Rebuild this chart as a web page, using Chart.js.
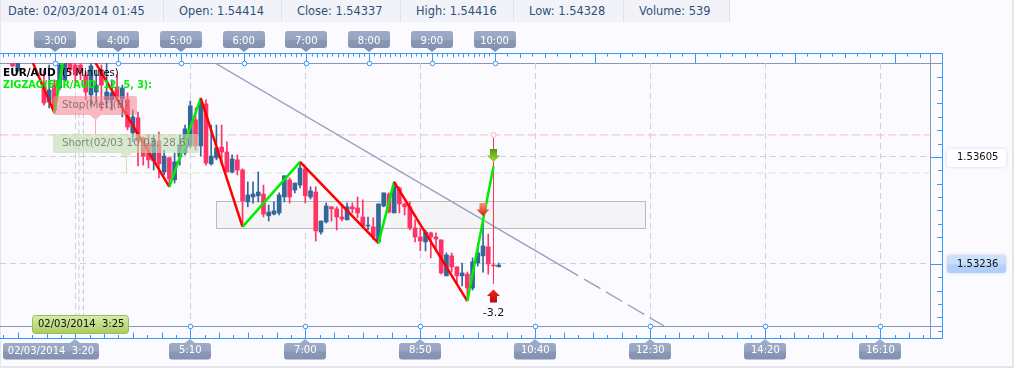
<!DOCTYPE html>
<html>
<head>
<meta charset="utf-8">
<title>EUR/AUD</title>
<script src="https://cdn.jsdelivr.net/npm/chart.js@4"></script>
<style>
  html, body { margin: 0; padding: 0; background: #fafaff; }
  #wrap { position: relative; width: 1014px; height: 368px; overflow: hidden; }
  #bubbleChart { position: absolute; left: 0; top: 0; }
  #header { position: absolute; left: 1px; top: 0; width: 729px; height: 22px; background: #f1f3f8; }
  #header span { position: absolute; top: 0; font: 11.4px/22px "DejaVu Sans"; color: #2f5078; white-space: nowrap; }
  #header i { position: absolute; top: 0; width: 1px; height: 22px; background: #e0e3ea; }
</style>
</head>
<body>
<div id="wrap">
  <canvas id="bubbleChart" width="1014" height="368"></canvas>
  <div id="header">
    <span style="left:7px">Date: 02/03/2014 01:45</span><i style="left:162px"></i>
    <span style="left:178px">Open: 1.54414</span><i style="left:280px"></i>
    <span style="left:296px">Close: 1.54337</span><i style="left:399px"></i>
    <span style="left:415px">High: 1.54416</span><i style="left:512px"></i>
    <span style="left:528px">Low: 1.54328</span><i style="left:622px"></i>
    <span style="left:638px">Volume: 539</span><i style="left:728px"></i>
  </div>
</div>
<script>
// candles, time is minutes after midnight
var times = [140,145,170,175,180,185,190,195,200,205,210,215,220,225,230,235,240,245,250,255,260,265,270,275,280,285,290,295,300,305,310,315,320,325,330,335,340,345,350,355,360,365,370,375,380,385,390,395,400,405,410,415,420,425,430,435,440,445,450,455,460,465,470,475,480,485,490,495,500,505,510,515,520,525,530,535,540,545,550,555,560,565,570,575,580,585,590,595,600,605];
var opens = [1.53947,1.53902,1.53860,1.53795,1.53853,1.53843,1.53871,1.53940,1.53922,1.53922,1.53888,1.53819,1.53829,1.53905,1.53802,1.53802,1.53846,1.53805,1.53802,1.53688,1.53740,1.53671,1.53653,1.53591,1.53660,1.53553,1.53602,1.53526,1.53605,1.53619,1.53643,1.53733,1.53643,1.53788,1.53581,1.53602,1.53639,1.53622,1.53553,1.53595,1.53560,1.53450,1.53467,1.53471,1.53477,1.53402,1.53408,1.53412,1.53467,1.53526,1.53491,1.53508,1.53564,1.53467,1.53484,1.53346,1.53381,1.53433,1.53426,1.53398,1.53388,1.53433,1.53429,1.53398,1.53367,1.53364,1.53312,1.53436,1.53477,1.53412,1.53498,1.53443,1.53433,1.53360,1.53329,1.53312,1.53343,1.53329,1.53319,1.53195,1.53264,1.53226,1.53195,1.53201,1.53153,1.53239,1.53264,1.53295,1.53232,1.53226];
var closes = [1.53919,1.53940,1.53791,1.53836,1.53767,1.53922,1.53940,1.53905,1.53888,1.53895,1.53829,1.53919,1.53853,1.53853,1.53829,1.53826,1.53812,1.53843,1.53708,1.53743,1.53660,1.53608,1.53595,1.53664,1.53581,1.53608,1.53529,1.53588,1.53646,1.53702,1.53781,1.53643,1.53791,1.53584,1.53608,1.53636,1.53622,1.53553,1.53598,1.53560,1.53453,1.53474,1.53477,1.53484,1.53408,1.53415,1.53419,1.53474,1.53540,1.53467,1.53515,1.53567,1.53471,1.53488,1.53350,1.53384,1.53436,1.53426,1.53398,1.53391,1.53433,1.53426,1.53412,1.53367,1.53370,1.53329,1.53443,1.53481,1.53415,1.53508,1.53443,1.53433,1.53360,1.53329,1.53315,1.53346,1.53329,1.53322,1.53205,1.53267,1.53226,1.53195,1.53205,1.53153,1.53243,1.53274,1.53298,1.53236,1.53229,1.53232];
var highs = [1.53947,1.53947,1.53905,1.53922,1.53871,1.53940,1.53947,1.53940,1.53933,1.53933,1.53898,1.53933,1.53905,1.53922,1.53929,1.53871,1.53888,1.53853,1.53826,1.53767,1.53760,1.53674,1.53681,1.53681,1.53691,1.53629,1.53605,1.53619,1.53681,1.53715,1.53798,1.53774,1.53808,1.53802,1.53715,1.53715,1.53715,1.53657,1.53612,1.53612,1.53564,1.53519,1.53519,1.53553,1.53508,1.53439,1.53450,1.53481,1.53540,1.53533,1.53515,1.53584,1.53567,1.53502,1.53502,1.53384,1.53446,1.53433,1.53433,1.53439,1.53446,1.53446,1.53467,1.53457,1.53398,1.53395,1.53443,1.53481,1.53481,1.53519,1.53502,1.53446,1.53450,1.53388,1.53360,1.53353,1.53346,1.53343,1.53319,1.53274,1.53274,1.53226,1.53239,1.53208,1.53257,1.53308,1.53388,1.53339,1.53236,1.53239];
var lows = [1.53915,1.53898,1.53784,1.53774,1.53757,1.53836,1.53864,1.53888,1.53853,1.53871,1.53802,1.53784,1.53802,1.53767,1.53774,1.53767,1.53802,1.53743,1.53698,1.53657,1.53574,1.53577,1.53567,1.53560,1.53533,1.53543,1.53502,1.53515,1.53577,1.53612,1.53636,1.53629,1.53608,1.53577,1.53577,1.53595,1.53577,1.53553,1.53550,1.53543,1.53364,1.53433,1.53446,1.53450,1.53398,1.53384,1.53405,1.53405,1.53450,1.53446,1.53481,1.53498,1.53446,1.53460,1.53315,1.53339,1.53377,1.53384,1.53353,1.53384,1.53388,1.53412,1.53395,1.53364,1.53353,1.53319,1.53308,1.53433,1.53412,1.53412,1.53412,1.53405,1.53353,1.53312,1.53281,1.53281,1.53257,1.53284,1.53201,1.53195,1.53208,1.53170,1.53160,1.53112,1.53146,1.53229,1.53208,1.53201,1.53229,1.53226];

// zigzag turning points
var zigTimes = [142.3,180,195,290,320,360,415,490,505,575,600];
var zigPrices = [1.54074,1.53757,1.54077,1.53502,1.53808,1.53364,1.53588,1.53308,1.53519,1.53108,1.53572];

var trendTimes = [333.6,680.9];
var trendPrices = [1.53929,1.53196];
var trendDashTimes = [686.6,763.1];
var trendDashPrices = [1.53184,1.53022];

var stopPrice = 1.53681;
var shortPrice = 1.53550;
var tradeTime = 600;
var tradeLow = 1.53167;
var crossTimes = [203.5,207.8];

var priceTicks = [1.53605,1.53236];
var bottomTicks = [200,310,420,530,640,750,860,970];
var topTicks = [180,240,300,360,420,480,540,600];
var boxTimes = [335,745];
var boxPrices = [1.53453,1.53360];

var BLUE = "#336699";
var PINK = "#ff3366";
var FONT = '"DejaVu Sans"';

function timeLabel(v) {
  var h = Math.floor(v / 60);
  var m = v % 60;
  return h + ":" + (m < 10 ? "0" + m : m);
}

function xy(xs, ys) {
  return xs.map(function (x, i) { return { x: x, y: ys[i] }; });
}

function roundRect(ctx, x, y, w, h, r) {
  ctx.beginPath();
  ctx.roundRect(x, y, w, h, r);
}

// pill with a small pointer towards the axis
function pill(ctx, x, y, w, h, tipX, tipY, fill) {
  ctx.fillStyle = fill;
  roundRect(ctx, x, y, w, h, 3);
  ctx.fill();
  ctx.beginPath();
  var edge = tipY > y ? y + h : y;
  ctx.moveTo(tipX - 5, edge);
  ctx.lineTo(tipX, tipY);
  ctx.lineTo(tipX + 5, edge);
  ctx.closePath();
  ctx.fill();
}

function pillGradient(ctx, y, h) {
  var g = ctx.createLinearGradient(0, y, 0, y + h);
  g.addColorStop(0, "#9eabc6");
  g.addColorStop(0.5, "#97a5c1");
  g.addColorStop(0.55, "#8a97b6");
  g.addColorStop(1, "#8491b0");
  return g;
}

// block arrow, dir 1 = down, -1 = up. tip at (x, tip)
function arrow(ctx, x, tip, dir, c1, c2) {
  var g = ctx.createLinearGradient(0, tip - dir * 13, 0, tip);
  g.addColorStop(0, c1);
  g.addColorStop(1, c2);
  ctx.fillStyle = g;
  ctx.beginPath();
  ctx.moveTo(x, tip);
  ctx.lineTo(x + 6.5, tip - dir * 6.5);
  ctx.lineTo(x + 3.5, tip - dir * 6.5);
  ctx.lineTo(x + 3.5, tip - dir * 13);
  ctx.lineTo(x - 3.5, tip - dir * 13);
  ctx.lineTo(x - 3.5, tip - dir * 6.5);
  ctx.lineTo(x - 6.5, tip - dir * 6.5);
  ctx.closePath();
  ctx.fill();
}

var frame = {
  id: "frame",
  beforeDraw: function (chart) {
    var ctx = chart.ctx;
    var x = chart.scales.x, top = chart.scales.xTop, y = chart.scales.y;
    var i, px;
    ctx.save();
    ctx.fillStyle = "#fafaff";
    ctx.fillRect(0, 0, chart.width, chart.height);

    // page edge
    ctx.fillStyle = "#e4e4ea";
    ctx.fillRect(0, 366, 1014, 2);
    ctx.fillRect(1012, 0, 2, 368);
    ctx.fillRect(0, 0, 1, 368);

    // outer blue ruler
    ctx.strokeStyle = "#3399ff";
    ctx.lineWidth = 1;
    ctx.beginPath();
    ctx.moveTo(0, 53.5); ctx.lineTo(942.5, 53.5);
    ctx.lineTo(942.5, 338.5); ctx.lineTo(0, 338.5);

    // top ruler, 5 minute steps up to the last bar then wider
    var p600 = top.getPixelForValue(600);
    for (i = 0; top.getPixelForValue(600 - i * 5) > 0; i++) {
      px = Math.round(top.getPixelForValue(600 - i * 5)) + 0.5;
      ctx.moveTo(px, 53.5); ctx.lineTo(px, i % 2 ? 56.5 : 57.5);
    }
    for (i = 1; p600 + i * 12.5 < 930; i++) {
      px = Math.round(p600 + i * 12.5) + 0.5;
      ctx.moveTo(px, 53.5); ctx.lineTo(px, i % 8 === 0 ? 63 : (i % 2 ? 56.5 : 58));
    }
    // bottom ruler
    var p0 = x.getPixelForValue(200), step = (x.getPixelForValue(310) - p0) / 8;
    for (i = -5; p0 + i * step < 930; i++) {
      px = Math.round(p0 + i * step) + 0.5;
      ctx.moveTo(px, 338.5); ctx.lineTo(px, i % 2 === 0 ? 332.5 : 335);
    }
    // right ruler
    var y0 = y.getPixelForValue(priceTicks[0]);
    var ystep = (y.getPixelForValue(priceTicks[1]) - y0) / 8;
    for (i = -7; y0 + i * ystep < 338; i++) {
      px = Math.round(y0 + i * ystep) + 0.5;
      ctx.moveTo(942.5, px); ctx.lineTo(i % 8 === 0 ? 930 : (i % 2 === 0 ? 937 : 938), px);
    }
    // stems from axis to ruler
    topTicks.forEach(function (t) {
      px = Math.round(top.getPixelForValue(t)) + 0.5;
      ctx.moveTo(px, 53.5); ctx.lineTo(px, 63);
    });
    bottomTicks.forEach(function (t) {
      px = Math.round(x.getPixelForValue(t)) + 0.5;
      ctx.moveTo(px, 326); ctx.lineTo(px, 338.5);
    });
    ctx.stroke();

    // inner grey frame
    ctx.strokeStyle = "#8597ba";
    ctx.beginPath();
    ctx.moveTo(0, 63.5); ctx.lineTo(942.5, 63.5);
    ctx.moveTo(0, 326.5); ctx.lineTo(942.5, 326.5);
    ctx.moveTo(930.5, 53.5); ctx.lineTo(930.5, 338.5);
    ctx.stroke();

    // pills under the tick labels
    topTicks.forEach(function (t) {
      px = Math.round(top.getPixelForValue(t));
      pill(ctx, px - 21, 31, 42, 17, px, 52, pillGradient(ctx, 31, 17));
    });
    bottomTicks.forEach(function (t, n) {
      px = Math.round(x.getPixelForValue(t));
      if (n === 0) pill(ctx, 3, 343, 96, 16.5, px, 339, pillGradient(ctx, 343, 16));
      else pill(ctx, px - 21, 343, 42, 16.5, px, 339, pillGradient(ctx, 343, 16));
    });

    // price labels
    ctx.shadowColor = "rgba(120,130,170,0.35)";
    ctx.shadowBlur = 3;
    ctx.fillStyle = "#fff";
    roundRect(ctx, 947, 149, 59, 18, 3);
    ctx.fill();
    var g = ctx.createLinearGradient(0, 255, 0, 273);
    g.addColorStop(0, "#cfe2fb");
    g.addColorStop(0.5, "#c9defb");
    g.addColorStop(0.55, "#b2d1f9");
    g.addColorStop(1, "#afcff9");
    ctx.fillStyle = g;
    roundRect(ctx, 947, 255, 59, 18, 3);
    ctx.fill();
    ctx.restore();
  },
  beforeDatasetsDraw: function (chart) {
    var ctx = chart.ctx, x = chart.scales.x, y = chart.scales.y;
    var bx = x.getPixelForValue(boxTimes[0]), bx2 = x.getPixelForValue(boxTimes[1]);
    var by = y.getPixelForValue(boxPrices[0]), by2 = y.getPixelForValue(boxPrices[1]);
    ctx.save();
    ctx.fillStyle = "#f4f4f7";
    ctx.strokeStyle = "#bbbbbb";
    ctx.fillRect(bx, by, bx2 - bx, by2 - by);
    ctx.strokeRect(Math.round(bx) + 0.5, Math.round(by) + 0.5, Math.round(bx2 - bx), Math.round(by2 - by));
    ctx.restore();
  },
  afterDatasetsDraw: function (chart) {
    var ctx = chart.ctx, x = chart.scales.x, top = chart.scales.xTop;
    var tradeX = x.getPixelForValue(tradeTime);
    var px;
    ctx.save();

    // axis circles
    ctx.strokeStyle = "#3399ff";
    ctx.fillStyle = "#fafaff";
    ctx.lineWidth = 1;
    topTicks.forEach(function (t) {
      px = Math.round(top.getPixelForValue(t)) + 0.5;
      ctx.beginPath(); ctx.arc(px, 63.5, 2.3, 0, Math.PI * 2); ctx.fill(); ctx.stroke();
    });
    bottomTicks.slice(1).forEach(function (t) {
      px = Math.round(x.getPixelForValue(t)) + 0.5;
      ctx.beginPath(); ctx.arc(px, 326.5, 2.3, 0, Math.PI * 2); ctx.fill(); ctx.stroke();
    });

    // stop bubble
    ctx.fillStyle = "rgba(250,130,140,0.55)";
    roundRect(ctx, 53, 96, 84, 19, 2);
    ctx.fill();
    ctx.beginPath();
    ctx.moveTo(90, 115); ctx.lineTo(95.5, 120); ctx.lineTo(101, 115); ctx.closePath();
    ctx.fill();
    ctx.fillStyle = "rgba(250,150,160,0.8)";
    ctx.fillRect(95, 120, 1, 15);
    // short bubble
    ctx.fillStyle = "rgba(195,222,175,0.6)";
    roundRect(ctx, 53, 134, 146, 19, 2);
    ctx.fill();
    ctx.beginPath();
    ctx.moveTo(120, 153); ctx.lineTo(126, 159); ctx.lineTo(132, 153); ctx.closePath();
    ctx.fill();
    ctx.fillStyle = "rgba(190,220,170,0.8)";
    ctx.fillRect(126, 159, 1, 14);

    ctx.textBaseline = "middle";
    ctx.textAlign = "left";
    ctx.font = "10.3px " + FONT;
    ctx.fillStyle = "rgba(110,100,100,0.8)";
    ctx.fillText("Stop(Met)(B)", 62, 105.5);
    ctx.fillStyle = "rgba(110,120,105,0.85)";
    ctx.fillText("Short(02/03 10:03, 28.6)", 62, 143.5);

    // title lines
    ctx.font = "bold 10.5px " + FONT;
    ctx.fillStyle = "#000";
    ctx.fillText("EUR/AUD", 3, 73);
    ctx.font = "10px " + FONT;
    ctx.fillText("(5 Minutes)", 62, 73);
    ctx.font = "bold 9.6px " + FONT;
    ctx.fillStyle = "#00f000";
    ctx.fillText("ZIGZAG(EUR/AUD, 12, 5, 3):", 3, 85);

    // entry and exit arrows
    arrow(ctx, tradeX, 162, 1, "#4f9a12", "#a8d63e");
    arrow(ctx, tradeX - 10.5, 216, 1, "#f59a6a", "#d81c14");
    arrow(ctx, tradeX, 289.5, -1, "#b80d12", "#f52222");

    ctx.fillStyle = "#111";
    ctx.textAlign = "center";
    ctx.font = "11px " + FONT;
    ctx.fillText("-3.2", tradeX, 313);

    // crosshair time label
    var g = ctx.createLinearGradient(0, 315, 0, 333);
    g.addColorStop(0, "#dcecae");
    g.addColorStop(1, "#aacd63");
    ctx.fillStyle = g;
    ctx.strokeStyle = "#9bbd55";
    roundRect(ctx, 32.5, 315.5, 96, 18, 3);
    ctx.fill();
    ctx.stroke();
    ctx.fillStyle = "#111";
    ctx.textAlign = "left";
    ctx.font = "10px " + FONT;
    ctx.save();
    ctx.beginPath(); ctx.rect(32, 315, 96, 18); ctx.clip();
    ctx.fillText("02/03/2014  3:25", 38, 324.5);
    ctx.restore();

    // first bottom label sits off centre of its tick
    ctx.fillStyle = "#fff";
    ctx.textAlign = "center";
    ctx.font = "10px " + FONT;
    ctx.fillText("02/03/2014  3:20", 51, 351);
    ctx.restore();
  }
};

var wickData = times.map(function (t, i) { return { x: t, y: [lows[i], highs[i]] }; });
var bodyData = times.map(function (t, i) { return { x: t, y: [opens[i], closes[i]] }; });
var barColors = times.map(function (t, i) { return closes[i] >= opens[i] ? BLUE : PINK; });

function plainLine(data, color, width, dash, order) {
  return {
    type: "line",
    data: data,
    borderColor: color,
    borderWidth: width,
    borderDash: dash,
    pointRadius: 0,
    order: order
  };
}

// no extra room for the outer tick labels, the plot fills the width
function fixHeight(h) {
  return function (s) {
    s.height = h;
    s.paddingLeft = 0;
    s.paddingRight = 0;
  };
}

var ctx = document.getElementById("bubbleChart").getContext("2d");
var myChart = new Chart(ctx, {
  type: "bar",
  plugins: [frame],
  data: {
    datasets: [
      plainLine([{ x: 128, y: stopPrice }, { x: 1017, y: stopPrice }], "#f6bcbc", 1, [8, 4], 9),
      plainLine([{ x: 128, y: shortPrice }, { x: 1017, y: shortPrice }], "#d8e6d0", 1, [8, 4], 9),
      plainLine([{ x: crossTimes[0], y: 1.53022 }, { x: crossTimes[0], y: 1.53780 }], "#c8cfe0", 1, [5, 3], 9),
      plainLine([{ x: crossTimes[1], y: 1.53022 }, { x: crossTimes[1], y: 1.53780 }], "#c4c8d4", 1, [5, 3], 9),
      { data: wickData, backgroundColor: barColors, barThickness: 1, grouped: false, order: 6 },
      { data: bodyData, backgroundColor: barColors, barThickness: 4, grouped: false, order: 5 },
      plainLine(xy(trendTimes, trendPrices), "#9b9dbf", 1.4, [], 4),
      plainLine(xy(trendDashTimes, trendDashPrices), "#9b9dbf", 1.4, [19, 6.4], 4),
      {
        type: "line",
        data: [{ x: tradeTime, y: stopPrice }, { x: tradeTime, y: tradeLow }],
        borderColor: PINK,
        borderWidth: 1,
        pointRadius: [2.5, 0],
        pointBackgroundColor: "#fafaff",
        pointBorderColor: "#f6bcbc",
        order: 3
      },
      {
        type: "line",
        data: xy(zigTimes, zigPrices),
        borderWidth: 2.5,
        borderColor: "#ff0000",
        pointRadius: 0,
        order: 2,
        segment: {
          borderColor: function (c) { return c.p1.parsed.y > c.p0.parsed.y ? "#00ee00" : "#ff0000"; }
        }
      }
    ]
  },
  options: {
    responsive: false,
    animation: false,
    layout: { padding: 0, autoPadding: false },
    plugins: { legend: { display: false }, tooltip: { enabled: false } },
    scales: {
      x: {
        type: "linear",
        position: "bottom",
        offset: false,
        min: 128,
        max: 1017.5,
        afterFit: fixHeight(42),
        afterBuildTicks: function (s) { s.ticks = bottomTicks.map(function (v) { return { value: v }; }); },
        border: { display: false, dash: [6, 4] },
        grid: { color: "#cfd0da", drawTicks: false, lineWidth: 1, offset: false },
        ticks: {
          autoSkip: false,
          maxRotation: 0,
          padding: 18,
          color: "#fff",
          font: { family: FONT, size: 10 },
          callback: function (v, i) { return i === 0 ? "" : timeLabel(v); }
        }
      },
      xTop: {
        type: "linear",
        position: "top",
        offset: false,
        min: 127,
        max: 1016.5,
        afterFit: fixHeight(63),
        afterBuildTicks: function (s) { s.ticks = topTicks.map(function (v) { return { value: v }; }); },
        border: { display: false },
        grid: { drawOnChartArea: false, drawTicks: false, offset: false },
        ticks: {
          autoSkip: false,
          maxRotation: 0,
          padding: 16,
          color: "#fff",
          font: { family: FONT, size: 10 },
          callback: function (v) { return timeLabel(v); }
        }
      },
      y: {
        type: "linear",
        position: "right",
        min: 1.53022,
        max: 1.53929,
        afterFit: function (s) { s.width = 84; },
        afterBuildTicks: function (s) { s.ticks = priceTicks.map(function (v) { return { value: v }; }); },
        border: { display: false, dash: [6, 4] },
        grid: { color: "#cfd0da", drawTicks: false, lineWidth: 1 },
        ticks: {
          padding: 27,
          color: "#111",
          font: { family: FONT, size: 10 },
          callback: function (v) { return v.toFixed(5); }
        }
      }
    }
  }
});
</script>
</body>
</html>
